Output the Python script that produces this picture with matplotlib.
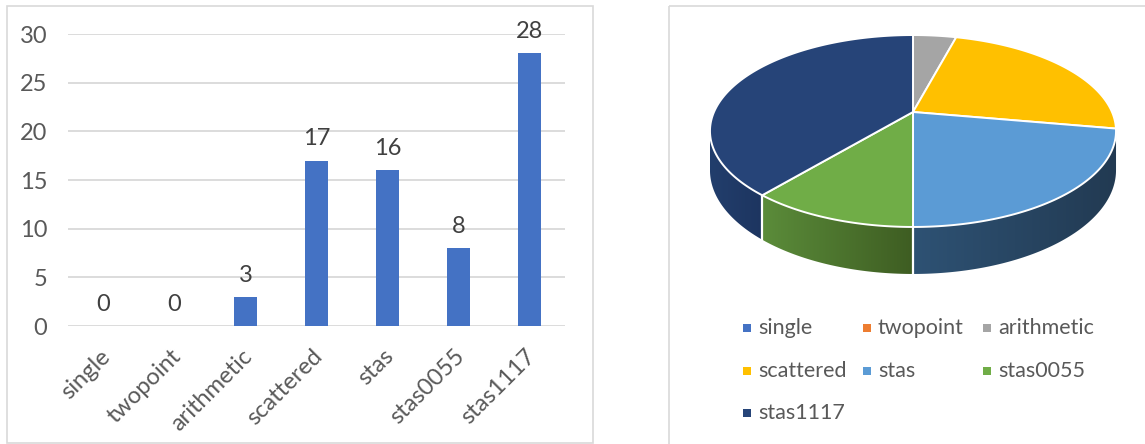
import numpy as np
import matplotlib
matplotlib.use("Agg")
import matplotlib.pyplot as plt
from matplotlib.patches import Polygon, Rectangle
from matplotlib.colors import to_rgb
from matplotlib.transforms import ScaledTranslation

# ---- data ----
categories = ["single", "twopoint", "arithmetic", "scattered", "stas", "stas0055", "stas1117"]
counts = [0, 0, 3, 17, 16, 8, 28]
y_ticks = [0, 5, 10, 15, 20, 25, 30]

# ---- styles ----
bar_color = "#4472C4"
slice_colors = ["#4472C4", "#ED7D31", "#A5A5A5", "#FFC000", "#5B9BD5", "#70AD47", "#264478"]
# side-wall shading of each slice (left edge colour, right edge colour)
wall_shades = {
    "stas": ("#2e5274", "#223a52"),
    "stas0055": ("#5b8c3a", "#3e5d22"),
    "stas1117": ("#223e6c", "#1d3560"),
    "scattered": ("#b58a00", "#8a6a00"),
    "arithmetic": ("#7a7a7a", "#5f5f5f"),
    "single": ("#30528f", "#263f6e"),
    "twopoint": ("#b35d24", "#8c481b"),
}
text_color = "#595959"
grid_color = "#d9d9d9"
tick_size = 17

W, H, DPI = 1145, 444, 100
plt.rcParams['font.family'] = ['Lato', 'DejaVu Sans']
fig = plt.figure(figsize=(W / DPI, H / DPI), dpi=DPI)

# full-figure canvas in pixel units for frames, the 3-D pie and its legend
bg = fig.add_axes([0, 0, 1, 1])
bg.set_xlim(0, W)
bg.set_ylim(H, 0)
bg.axis("off")
bg.add_patch(Rectangle((7, 6), 586, 437, fill=False, ec=grid_color, lw=1.2))
bg.add_patch(Rectangle((669, 6), 520, 470, fill=False, ec=grid_color, lw=1.2))

# ---- column chart ----
ax = fig.add_axes([68 / W, 1 - 326 / H, (565 - 68) / W, (326 - 34) / H])
x = np.arange(len(categories))
ax.bar(x, counts, width=0.32, color=bar_color, zorder=3)
ax.set_xlim(-0.5, len(categories) - 0.5)
ax.set_ylim(0, 30)
ax.set_yticks(y_ticks)
ax.grid(axis="y", color=grid_color, lw=1.3, zorder=0)
ax.set_axisbelow(True)
for s in ax.spines.values():
    s.set_visible(False)
ax.tick_params(axis="both", length=0, colors=text_color, labelsize=tick_size)
ax.tick_params(axis="y", pad=15)
ax.tick_params(axis="x", pad=19.5)
ax.set_xticks(x)
ax.set_xticklabels(categories, rotation=45, ha="right", va="center", rotation_mode="anchor")
shift = ScaledTranslation(0.03, 0, fig.dpi_scale_trans)
for lab in ax.get_xticklabels():
    lab.set_transform(lab.get_transform() + shift)
for xi, v in zip(x, counts):
    ax.annotate(str(v), (xi, v), xytext=(0, 8), textcoords="offset points",
                ha="center", va="bottom", fontsize=tick_size, color="#404040")

# ---- 3-D pie ----
cx, cy = 913.0, 112.0      # centre of the top face
sx, sy, sz = 199.0, 92.2, 37.7
k = 0.198                   # perspective strength


def project(t_deg, z):
    t = np.radians(t_deg)
    px, py = np.sin(t), np.cos(t)
    w = 1 + k * py
    return cx + sx * px / w, cy - (sy * py + sz * z) / w


total = float(sum(counts))
bounds = np.concatenate([[0], np.cumsum(counts) / total * 360.0])
sil = np.degrees(np.arccos(-k))
vis0, vis1 = sil, 360 - sil

# side walls (front half only)
for name, a0, a1 in zip(categories, bounds[:-1], bounds[1:]):
    v0, v1 = max(a0, vis0), min(a1, vis1)
    if v1 <= v0:
        continue
    ts = np.linspace(v0, v1, 120)
    tx, ty = project(ts, 0)
    bx, by = project(ts[::-1], -1)
    pts = np.column_stack([np.concatenate([tx, bx]), np.concatenate([ty, by])])
    poly = Polygon(pts, closed=True, facecolor="none", edgecolor="none")
    bg.add_patch(poly)
    c_left, c_right = wall_shades[name]
    grad = np.linspace(0, 1, 256)[None, :, None]
    img = (1 - grad) * np.array(to_rgb(c_left)) + grad * np.array(to_rgb(c_right))
    im = bg.imshow(img, extent=(pts[:, 0].min(), pts[:, 0].max(), pts[:, 1].max(), pts[:, 1].min()),
                   aspect="auto", interpolation="bilinear", zorder=2)
    im.set_clip_path(poly)

# white seams on the wall at slice boundaries
for b in bounds:
    if vis0 < b < vis1:
        lx, ly = project(np.array([b, b]), np.array([0, -1]))
        bg.plot(lx, ly, color="white", lw=1.6, zorder=3)

# top faces
for name, col, a0, a1 in zip(categories, slice_colors, bounds[:-1], bounds[1:]):
    ts = np.linspace(a0, a1, max(2, int((a1 - a0) * 2)))
    tx, ty = project(ts, 0)
    pts = np.column_stack([np.concatenate([[cx], tx]), np.concatenate([[cy], ty])])
    bg.add_patch(Polygon(pts, closed=True, facecolor=col, edgecolor="white", lw=1.4,
                         joinstyle="round", zorder=4))

bg.set_xlim(0, W)
bg.set_ylim(H, 0)

# legend, three entries per row
leg_x0, leg_dx = 747, 120
leg_y0, leg_dy = 328, 42.5
for i, (name, col) in enumerate(zip(categories, slice_colors)):
    r, c = divmod(i, 3)
    mx, my = leg_x0 + c * leg_dx, leg_y0 + r * leg_dy
    bg.scatter([mx], [my], marker="s", s=28, color=col, zorder=5, linewidths=0)
    bg.text(mx + 11, my, name, fontsize=15.5, color=text_color, va="center", ha="left", zorder=5)

fig.savefig("out.png", dpi=DPI)
